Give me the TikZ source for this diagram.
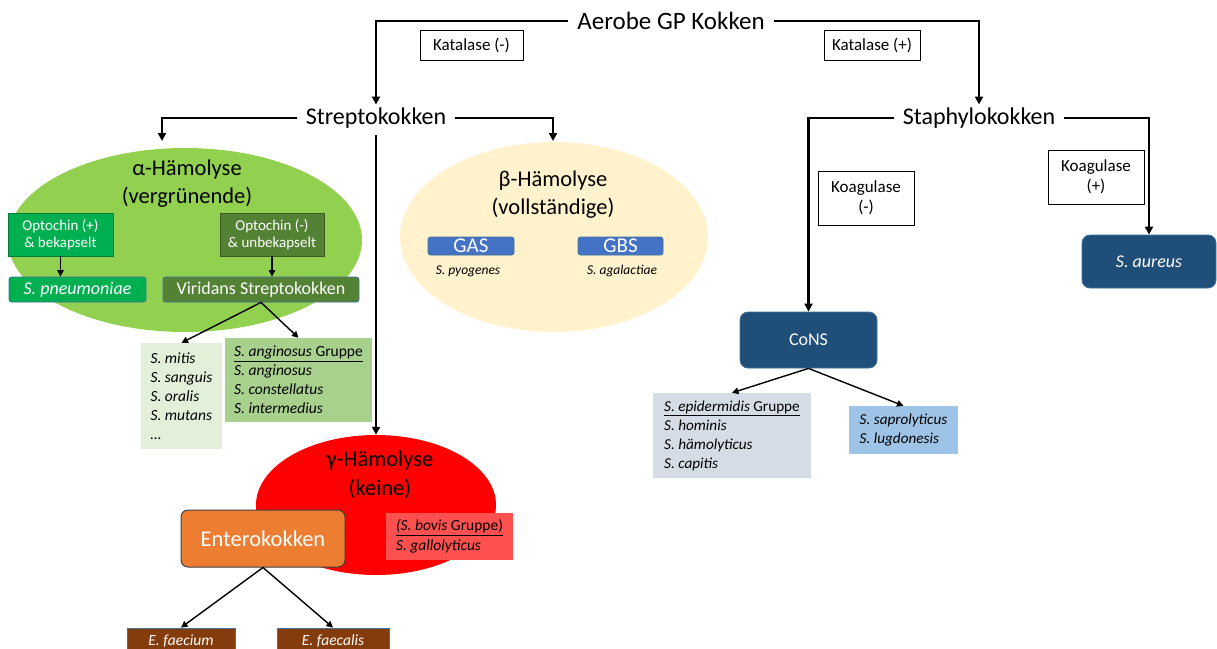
\documentclass[tikz,border=0pt]{standalone}
\usepackage{fontspec}
\setmainfont{Carlito}
\usetikzlibrary{arrows.meta,shapes.geometric}
\newcommand\fsz[2]{\fontsize{#1}{#2}\selectfont}
\definecolor{alphagreen}{HTML}{92D050}
\definecolor{optplus}{HTML}{00B050}
\definecolor{optminus}{HTML}{548235}
\definecolor{listlight}{HTML}{E2F0D9}
\definecolor{listmid}{HTML}{A9D18E}
\definecolor{betacol}{HTML}{FFF2CC}
\definecolor{gasblue}{HTML}{4472C4}
\definecolor{gammared}{HTML}{FF0000}
\definecolor{boviscol}{HTML}{FF5050}
\definecolor{enterocol}{HTML}{ED7D31}
\definecolor{faeccol}{HTML}{843C0C}
\definecolor{navy}{HTML}{1F4E79}
\definecolor{epicol}{HTML}{D6DCE5}
\definecolor{saprocol}{HTML}{9DC3E6}
\definecolor{bordblue}{HTML}{41719C}
\begin{document}
\begin{tikzpicture}[x=1pt,y=-1pt,
  mainarrow/.style={line width=2.6pt,line join=miter,-{Triangle[length=8pt,width=8pt]}},
  thinarrow/.style={line width=1.4pt,-{Triangle[length=6.5pt,width=6.5pt]}},
  heading/.style={inner xsep=9pt,inner ysep=3pt,font=\fsz{24}{28}},
  title/.style={align=center,font=\fsz{22.5}{28}},
  testbox/.style={draw=black,line width=0.9pt,fill=white,align=center,inner sep=0pt,font=\fsz{17}{20}},
  colbox/.style={draw=bordblue,line width=0.8pt,rounded corners=2.5pt,inner sep=0pt,text=white,align=center},
  listbox/.style={inner sep=0pt,align=left,font=\fsz{15.5}{19}\itshape},
  hemo/.style={ellipse,inner sep=0pt}
]
\useasboundingbox (0,0) rectangle (1217,648);

% ellipses
\node[hemo,fill=alphagreen,minimum width=354pt,minimum height=184pt] (alpha) at (185,240) {};
\node[hemo,fill=betacol,minimum width=308pt,minimum height=190pt] (beta) at (554,237) {};
\node[hemo,fill=gammared,minimum width=240pt,minimum height=140pt] (gamma) at (376,505) {};

% headings
\node[heading,font=\fsz{25}{29}] (aer) at (671,21) {Aerobe GP Kokken};
\node[heading] (strep) at (376,118) {Streptokokken};
\node[heading] (staph) at (979,118) {Staphylokokken};

% test boxes
\node[testbox,minimum width=103pt,minimum height=30pt] (katm) at (471.5,45) {Katalase (-)};
\node[testbox,minimum width=96pt,minimum height=30pt] (katp) at (872,45) {Katalase (+)};
\node[testbox,minimum width=96pt,minimum height=54pt] (koam) at (866,198) {Koagulase\\(-)};
\node[testbox,minimum width=96pt,minimum height=54pt] (koap) at (1096,177) {Koagulase\\(+)};

% alpha content
\node[title] (atitle) at (187,184) {α-Hämolyse\\(vergrünende)};
\node[colbox,rounded corners=0pt,fill=optplus,draw=optplus!70!black,minimum width=105pt,minimum height=43pt,font=\fsz{15}{17}] (optp) at (60.5,234.5) {Optochin (+)\\\& bekapselt};
\node[colbox,rounded corners=0pt,fill=optminus,draw=optminus!70!black,minimum width=104pt,minimum height=43pt,font=\fsz{15}{17}] (optm) at (272,234.5) {Optochin (-)\\\& unbekapselt};
\node[colbox,fill=optplus,minimum width=137pt,minimum height=25pt,font=\fsz{18}{20}\itshape] (pneu) at (77.5,289.5) {S. pneumoniae};
\node[colbox,fill=optminus,minimum width=196pt,minimum height=25pt,font=\fsz{18}{20}] (vir) at (261,289.5) {Viridans Streptokokken};
\node[listbox,fill=listlight,minimum width=81pt,minimum height=106pt] (mitis) at (181.5,396) {S. mitis\\S. sanguis\\S. oralis\\S. mutans\\\ldots};
\node[listbox,fill=listmid,minimum width=147pt,minimum height=84pt] (angi) at (298.5,380) {\underline{S. anginosus \upshape Gruppe}\\S. anginosus\\S. constellatus\\S. intermedius};

% beta content
\node[title] (btitle) at (553,195) {β-Hämolyse\\(vollständige)};
\node[colbox,fill=gasblue,minimum width=86pt,minimum height=18pt,font=\fsz{21}{21}] (gas) at (471,246) {GAS};
\node[colbox,fill=gasblue,minimum width=85pt,minimum height=18pt,font=\fsz{21}{21}] (gbs) at (620.5,246) {GBS};
\node[font=\fsz{13.5}{16}\itshape,inner sep=1pt] (pyo) at (468,271) {S. pyogenes};
\node[font=\fsz{13.5}{16}\itshape,inner sep=1pt] (aga) at (622,271) {S. agalactiae};

% gamma content
\node[title,font=\fsz{22.5}{29}] (gtitle) at (380,474.5) {γ-Hämolyse\\(keine)};
\node[colbox,fill=enterocol,draw=black!75,line width=1pt,rounded corners=7pt,minimum width=164pt,minimum height=57pt,font=\fsz{22.5}{26}] (entero) at (263,538.5) {Enterokokken};
\node[listbox,fill=boviscol,minimum width=127pt,minimum height=47pt,font=\fsz{15.5}{20}\itshape] (bovis) at (449.5,536.5) {\underline{(S. bovis \upshape Gruppe)}\\S. gallolyticus};
\node[colbox,rounded corners=0pt,fill=faeccol,minimum width=108pt,minimum height=26pt,font=\fsz{15.5}{18}\itshape] (faecium) at (181,641) {E. faecium};
\node[colbox,rounded corners=0pt,fill=faeccol,minimum width=112pt,minimum height=26pt,font=\fsz{15.5}{18}\itshape] (faecalis) at (333,641) {E. faecalis};

% staphylococci
\node[colbox,fill=navy,rounded corners=8pt,minimum width=134pt,minimum height=53pt,font=\fsz{18}{20}\itshape] (aureus) at (1149,261.5) {S. aureus};
\node[colbox,fill=navy,rounded corners=8pt,minimum width=137pt,minimum height=56pt,font=\fsz{18}{20}] (cons) at (808.5,340) {CoNS};
\node[listbox,fill=epicol,minimum width=158pt,minimum height=85pt,font=\fsz{15.2}{19}\itshape] (epi) at (732,435.5) {\underline{S. epidermidis \upshape Gruppe}\\S. hominis\\S. hämolyticus\\S. capitis};
\node[listbox,fill=saprocol,minimum width=109pt,minimum height=48pt,font=\fsz{15.2}{19}\itshape] (sapro) at (903.5,430) {S. saprolyticus\\S. lugdonesis};

% coordinates for arrow ends on ellipses
\coordinate (alphatop) at (162,141);
\coordinate (betatop) at (553,141);

% main connectors
\draw[mainarrow] (aer.west) -| (strep.north);
\draw[mainarrow] (aer.east) -| (staph.north);
\draw[mainarrow] (strep.west) -| (alphatop);
\draw[mainarrow] (strep.east) -| (betatop);
\draw[mainarrow] (strep.south) ++(0,4) -- (gamma.north);
\draw[mainarrow] (staph.west) -| (cons.north);
\draw[mainarrow] (staph.east) -| (aureus.north);

% thin connectors
\draw[thinarrow] (optp.south) -- (optp.south |- pneu.north);
\draw[thinarrow] (optm.south) -- (optm.south |- vir.north);
\draw[thinarrow] (vir.south) -- (mitis.north);
\draw[thinarrow] (vir.south) -- (angi.north);
\draw[thinarrow] (entero.south) -- (faecium.north);
\draw[thinarrow] (entero.south) -- (faecalis.north);
\draw[thinarrow] (cons.south) -- (epi.north);
\draw[thinarrow] (cons.south) -- (sapro.north);
\end{tikzpicture}
\end{document}
